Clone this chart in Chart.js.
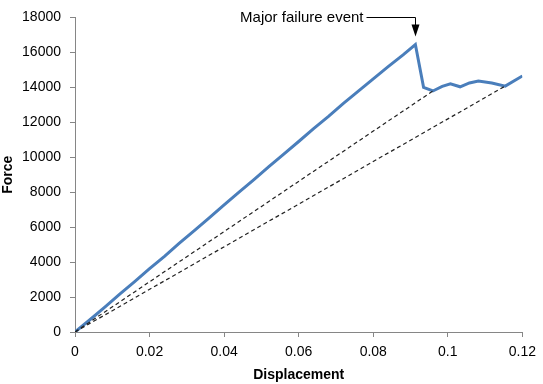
<!DOCTYPE html>
<html>
<head>
<meta charset="utf-8">
<script src="https://cdn.jsdelivr.net/npm/chart.js@4"></script>
<style>
  html, body { margin: 0; padding: 0; background: #fff; }
  #wrap { width: 543px; height: 384px; }
</style>
</head>
<body>
<div id="wrap"><canvas id="forceChart" width="543" height="384"></canvas></div>
<script>
// measured curve
const displacement = [0, 0.004, 0.008, 0.012, 0.016, 0.02, 0.024, 0.028, 0.032, 0.036,
  0.04, 0.044, 0.048, 0.052, 0.056, 0.06, 0.064, 0.068, 0.072, 0.076,
  0.08, 0.084, 0.088, 0.0913, 0.0935, 0.096, 0.0985, 0.1007, 0.1033, 0.1058,
  0.1082, 0.1118, 0.1154, 0.12];
const force = [0, 700, 1420, 2170, 2880, 3620, 4330, 5080, 5800, 6530,
  7280, 8000, 8720, 9460, 10180, 10900, 11640, 12340, 13080, 13780,
  14480, 15180, 15860, 16450, 14000, 13790, 14050, 14200, 14030, 14250,
  14360, 14250, 14070, 14650];

// secant lines (dashed)
const secantA = { x: [0, 0.096], y: [0, 13790] };
const secantB = { x: [0, 0.1154], y: [0, 14070] };

const xTicks = [0, 0.02, 0.04, 0.06, 0.08, 0.1, 0.12];
const xTickLabels = ['0', '0.02', '0.04', '0.06', '0.08', '0.1', '0.12'];
const yTicks = [0, 2000, 4000, 6000, 8000, 10000, 12000, 14000, 16000, 18000];

const annotationText = 'Major failure event';

const toPoints = (xs, ys) => xs.map((x, i) => ({ x: x, y: ys[i] }));

const axisGray = '#868686';
Chart.defaults.font.family = '"Liberation Sans", Arial, sans-serif';
Chart.defaults.color = '#000';

// arrow + label pointing at the peak
const failureNote = {
  id: 'failureNote',
  afterDatasetsDraw(chart) {
    const { ctx, chartArea, scales } = chart;
    let peak = 0;
    force.forEach((v, i) => { if (v > force[peak]) peak = i; });
    const px = Math.round(scales.x.getPixelForValue(displacement[peak])) + 0.5;
    const py = scales.y.getPixelForValue(force[peak]);
    const ly = Math.round(chartArea.top) + 0.5;
    ctx.save();
    ctx.strokeStyle = '#000';
    ctx.fillStyle = '#000';
    ctx.lineWidth = 1;
    ctx.beginPath();
    ctx.moveTo(px - 49, ly);
    ctx.lineTo(px, ly);
    ctx.lineTo(px, py - 16);
    ctx.stroke();
    ctx.beginPath();
    ctx.moveTo(px - 4, py - 20);
    ctx.lineTo(px + 4, py - 20);
    ctx.lineTo(px, py - 8);
    ctx.closePath();
    ctx.fill();
    ctx.font = '15px "Liberation Sans", Arial, sans-serif';
    ctx.textAlign = 'right';
    ctx.textBaseline = 'middle';
    ctx.fillText(annotationText, px - 52, ly);
    ctx.restore();
  }
};

new Chart(document.getElementById('forceChart').getContext('2d'), {
  type: 'scatter',
  data: {
    datasets: [
      {
        label: 'Secant A',
        data: toPoints(secantA.x, secantA.y),
        showLine: true,
        borderColor: '#222',
        borderWidth: 1.2,
        borderDash: [4, 3],
        pointRadius: 0
      },
      {
        label: 'Secant B',
        data: toPoints(secantB.x, secantB.y),
        showLine: true,
        borderColor: '#222',
        borderWidth: 1.2,
        borderDash: [4, 3],
        pointRadius: 0
      },
      {
        label: 'Force',
        data: toPoints(displacement, force),
        showLine: true,
        borderColor: '#4A7EBB',
        borderWidth: 3,
        pointRadius: 0,
        tension: 0
      }
    ]
  },
  options: {
    responsive: false,
    animation: false,
    layout: { padding: { top: 16, right: 17, bottom: 0, left: 0 } },
    plugins: { legend: { display: false }, tooltip: { enabled: false } },
    scales: {
      x: {
        type: 'linear',
        min: 0,
        max: 0.12,
        afterBuildTicks: (s) => { s.ticks = xTicks.map(v => ({ value: v })); },
        afterFit: (s) => { s.height = 52; },
        ticks: {
          padding: 7,
          font: { size: 14 },
          maxRotation: 0,
          callback: (v) => xTickLabels[xTicks.indexOf(v)]
        },
        grid: { drawOnChartArea: false, tickLength: 5, color: axisGray },
        border: { color: axisGray },
        title: { display: true, text: 'Displacement', font: { size: 14, weight: 'bold' }, padding: 0 }
      },
      y: {
        min: 0,
        max: 18000,
        afterBuildTicks: (s) => { s.ticks = yTicks.map(v => ({ value: v })); },
        afterFit: (s) => { s.width = 75; },
        ticks: { padding: 9, font: { size: 14 }, callback: (v) => String(v) },
        grid: { drawOnChartArea: false, tickLength: 5, color: axisGray },
        border: { color: axisGray },
        title: { display: true, text: 'Force', font: { size: 14, weight: 'bold' }, padding: 0 }
      }
    }
  },
  plugins: [failureNote]
});
</script>
</body>
</html>
